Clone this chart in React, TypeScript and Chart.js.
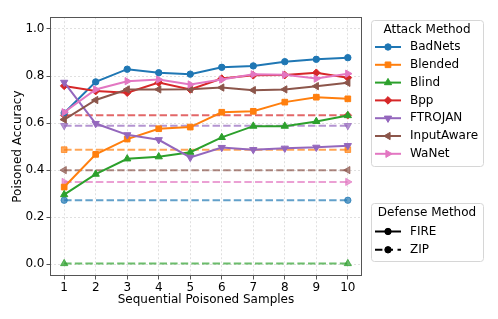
import React, { useEffect, useRef } from 'react';
import { Chart, registerables } from 'chart.js';
import { drawPoint } from 'chart.js/helpers';

Chart.register(...registerables);

// ---------- data ----------
const samples = [1, 2, 3, 4, 5, 6, 7, 8, 9, 10];
const attackMethods = ['BadNets', 'Blended', 'Blind', 'Bpp', 'FTROJAN', 'InputAware', 'WaNet'];
const defenseMethods = ['FIRE', 'ZIP'];
const yTickValues = [0, 0.2, 0.4, 0.6, 0.8, 1.0];

const fireBadNets = [0.643, 0.775, 0.829, 0.814, 0.808, 0.837, 0.843, 0.861, 0.871, 0.878];
const fireBlended = [0.328, 0.467, 0.532, 0.576, 0.583, 0.646, 0.65, 0.689, 0.71, 0.703];
const fireBlind = [0.296, 0.383, 0.448, 0.457, 0.476, 0.539, 0.587, 0.587, 0.607, 0.632];
const fireBpp = [0.758, 0.736, 0.729, 0.772, 0.743, 0.789, 0.803, 0.804, 0.814, 0.793];
const fireFtrojan = [0.773, 0.598, 0.55, 0.529, 0.454, 0.496, 0.487, 0.493, 0.497, 0.504];
const fireInputAware = [0.615, 0.698, 0.743, 0.743, 0.744, 0.751, 0.74, 0.743, 0.757, 0.771];
const fireWaNet = [0.646, 0.743, 0.778, 0.785, 0.764, 0.785, 0.807, 0.805, 0.789, 0.81];

// ZIP accuracy (one value per attack, drawn as a horizontal dashed line)
const zipAccuracy = [0.272, 0.487, 0.003, 0.633, 0.589, 0.4, 0.35];

const fireSeries = [fireBadNets, fireBlended, fireBlind, fireBpp, fireFtrojan, fireInputAware, fireWaNet];

// ---------- styles ----------
const colors = ['#1f77b4', '#ff7f0e', '#2ca02c', '#d62728', '#9467bd', '#8c564b', '#e377c2'];
const markers = [
  { style: 'circle', rotation: 0, radius: 3.2 },
  { style: 'rect', rotation: 0, radius: 4 },
  { style: 'triangle', rotation: 0, radius: 4.2 },
  { style: 'rectRot', rotation: 0, radius: 3.8 },
  { style: 'triangle', rotation: 180, radius: 4.2 },
  { style: 'triangle', rotation: 270, radius: 4.2 },
  { style: 'triangle', rotation: 90, radius: 4.2 },
];
const FONT = '"DejaVu Sans", "Liberation Sans", sans-serif';
const DASH = [7.4, 3.2];

function withAlpha(hex: string, a: number) {
  const r = parseInt(hex.slice(1, 3), 16);
  const g = parseInt(hex.slice(3, 5), 16);
  const b = parseInt(hex.slice(5, 7), 16);
  return `rgba(${r},${g},${b},${a})`;
}

function roundRectPath(ctx: CanvasRenderingContext2D, x: number, y: number, w: number, h: number, r: number) {
  ctx.beginPath();
  ctx.moveTo(x + r, y);
  ctx.lineTo(x + w - r, y);
  ctx.arcTo(x + w, y, x + w, y + r, r);
  ctx.lineTo(x + w, y + h - r);
  ctx.arcTo(x + w, y + h, x + w - r, y + h, r);
  ctx.lineTo(x + r, y + h);
  ctx.arcTo(x, y + h, x, y + h - r, r);
  ctx.lineTo(x, y + r);
  ctx.arcTo(x, y, x + r, y, r);
  ctx.closePath();
}

const framePlugin = {
  id: 'mplFrame',
  afterDatasetsDraw(chart: any) {
    const { ctx, chartArea } = chart;
    ctx.save();
    ctx.strokeStyle = '#555555';
    ctx.lineWidth = 1;
    ctx.setLineDash([]);
    ctx.strokeRect(
      Math.round(chartArea.left) + 0.5,
      Math.round(chartArea.top) + 0.5,
      Math.round(chartArea.right - chartArea.left) - 1,
      Math.round(chartArea.bottom - chartArea.top) - 1
    );
    ctx.restore();
  },
};

function drawSample(ctx: CanvasRenderingContext2D, x0: number, y: number, color: string, dash: number[], marker: any) {
  const x1 = x0 + 26;
  ctx.save();
  ctx.strokeStyle = color;
  ctx.lineWidth = 2;
  ctx.setLineDash(dash);
  ctx.beginPath();
  ctx.moveTo(x0, y);
  ctx.lineTo(x1, y);
  ctx.stroke();
  ctx.setLineDash([]);
  ctx.fillStyle = color;
  ctx.strokeStyle = color;
  ctx.lineWidth = 1;
  drawPoint(ctx, { pointStyle: marker.style, rotation: marker.rotation, radius: marker.radius, borderWidth: 1 } as any, (x0 + x1) / 2, y);
  ctx.restore();
}

const legendPlugin = {
  id: 'mplLegends',
  afterDraw(chart: any) {
    const ctx: CanvasRenderingContext2D = chart.ctx;
    ctx.save();
    const boxX = chart.chartArea.right + 9;
    const boxW = 112;
    // Attack legend
    const b1y = 12;
    const rowH = 17.8;
    const b1h = 146;
    roundRectPath(ctx, boxX + 0.5, b1y + 0.5, boxW, b1h, 3);
    ctx.fillStyle = 'rgba(255,255,255,0.85)';
    ctx.fill();
    ctx.strokeStyle = '#d6d6d6';
    ctx.lineWidth = 1;
    ctx.stroke();
    ctx.fillStyle = '#000';
    ctx.font = `12px ${FONT}`;
    ctx.textBaseline = 'middle';
    ctx.textAlign = 'center';
    ctx.fillText('Attack Method', boxX + boxW / 2, b1y + 9.5);
    ctx.textAlign = 'left';
    const fireSets = chart.data.datasets.filter((d: any) => d.defense === defenseMethods[0]);
    fireSets.forEach((d: any, i: number) => {
      const y = b1y + 27 + i * rowH;
      drawSample(ctx, boxX + 4, y, d.borderColor, [], d.marker);
      ctx.fillStyle = '#000';
      ctx.fillText(d.label, boxX + 39, y);
    });
    // Defense legend
    const b2y = 195;
    const b2h = 58;
    roundRectPath(ctx, boxX + 0.5, b2y + 0.5, boxW, b2h, 3);
    ctx.fillStyle = 'rgba(255,255,255,0.85)';
    ctx.fill();
    ctx.strokeStyle = '#d6d6d6';
    ctx.stroke();
    ctx.fillStyle = '#000';
    ctx.textAlign = 'center';
    ctx.fillText('Defense Method', boxX + boxW / 2, b2y + 10);
    ctx.textAlign = 'left';
    defenseMethods.forEach((name, i) => {
      const y = b2y + 28.5 + i * 18.3;
      drawSample(ctx, boxX + 4, y, '#000000', i === 0 ? [] : [7.4, 3.2, 7.4, 4.5], { style: 'circle', rotation: 0, radius: 3.2 });
      ctx.fillStyle = '#000';
      ctx.fillText(name, boxX + 39, y);
    });
    ctx.restore();
  },
};

export default function App() {
  const canvasRef = useRef<HTMLCanvasElement | null>(null);

  useEffect(() => {
    if (!canvasRef.current) return;
    Chart.defaults.font.family = FONT;
    Chart.defaults.font.size = 12;
    Chart.defaults.color = '#000';

    const datasets: any[] = [];
    let k = 0;
    const total = attackMethods.length * 2;
    // ZIP dashed lines (drawn underneath)
    attackMethods.forEach((name, i) => {
      const c = withAlpha(colors[i], 0.7);
      datasets.push({
        label: name,
        defense: defenseMethods[1],
        marker: markers[i],
        data: [
          { x: samples[0], y: zipAccuracy[i] },
          { x: samples[samples.length - 1], y: zipAccuracy[i] },
        ],
        borderColor: c,
        backgroundColor: c,
        borderWidth: 2,
        borderDash: DASH,
        pointStyle: markers[i].style,
        pointRotation: markers[i].rotation,
        pointRadius: markers[i].radius,
        pointBorderWidth: 1,
        pointBorderColor: c,
        pointBackgroundColor: c,
        tension: 0,
        order: total - k++,
      });
    });
    attackMethods.forEach((name, i) => {
      datasets.push({
        label: name,
        defense: defenseMethods[0],
        marker: markers[i],
        data: samples.map((s, j) => ({ x: s, y: fireSeries[i][j] })),
        borderColor: colors[i],
        backgroundColor: colors[i],
        borderWidth: 2,
        pointStyle: markers[i].style,
        pointRotation: markers[i].rotation,
        pointRadius: markers[i].radius,
        pointBorderWidth: 1,
        pointBorderColor: colors[i],
        pointBackgroundColor: colors[i],
        tension: 0,
        order: total - k++,
      });
    });

    const chart = new Chart(canvasRef.current, {
      type: 'line',
      data: { datasets },
      options: {
        animation: false,
        responsive: false,
        events: [],
        layout: { padding: { left: 0, right: 128, top: 5, bottom: 0 } },
        plugins: { legend: { display: false }, tooltip: { enabled: false } },
        scales: {
          x: {
            type: 'linear',
            min: 0.55,
            max: 10.45,
            afterBuildTicks: (scale: any) => {
              scale.ticks = samples.map((v) => ({ value: v }));
            },
            afterFit: (scale: any) => {
              scale.height = 35;
            },
            ticks: {
              autoSkip: false,
              maxRotation: 0,
              padding: 1,
              color: '#000',
              font: { size: 12 },
              callback: (v: any) => String(v),
            },
            grid: {
              color: '#d9d9d9',
              lineWidth: 0.8,
              tickLength: 3.5,
              tickColor: '#555',
              tickWidth: 1,
            },
            border: { display: false, dash: [2, 2] },
            title: {
              display: true,
              text: 'Sequential Poisoned Samples',
              color: '#000',
              font: { size: 12 },
              padding: { top: 0, bottom: 4 },
            },
          },
          y: {
            type: 'linear',
            min: -0.05,
            max: 1.05,
            afterBuildTicks: (scale: any) => {
              scale.ticks = yTickValues.map((v) => ({ value: v }));
            },
            afterFit: (scale: any) => {
              scale.width = 42;
            },
            ticks: {
              padding: 2,
              color: '#000',
              font: { size: 12 },
              callback: (v: any) => Number(v).toFixed(1),
            },
            grid: {
              color: '#d9d9d9',
              lineWidth: 0.8,
              tickLength: 3.5,
              tickColor: '#555',
              tickWidth: 1,
            },
            border: { display: false, dash: [2, 2] },
            title: {
              display: true,
              text: 'Poisoned Accuracy',
              color: '#000',
              font: { size: 12 },
              padding: { top: 3, bottom: 0 },
            },
          },
        },
      } as any,
      plugins: [framePlugin, legendPlugin],
    });
    return () => chart.destroy();
  }, []);

  return (
    <div style={{ width: 482, height: 303 }}>
      <canvas ref={canvasRef} width={482} height={303} style={{ display: 'block' }} />
    </div>
  );
}
